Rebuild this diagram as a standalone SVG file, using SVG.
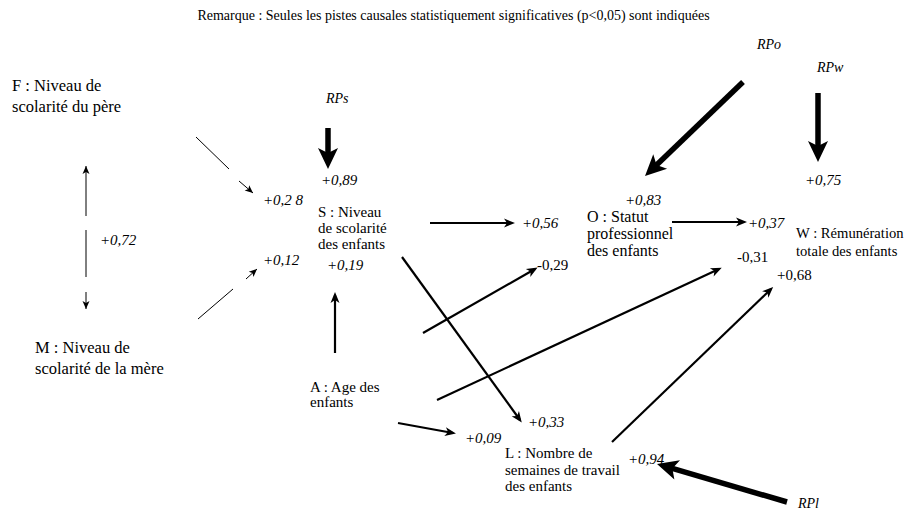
<svg xmlns="http://www.w3.org/2000/svg" width="907" height="512" viewBox="0 0 907 512">
  <style>
    text { font-family: "Liberation Serif", "Times New Roman", serif; fill: #000; }
    .node { font-size: 15px; }
    .big { font-size: 16.5px; }
    .mid16 { font-size: 16px; }
    .coef { font-size: 15px; font-style: italic; }
    .coefu { font-size: 15px; }
    .res { font-size: 14px; font-style: italic; }
    .note { font-size: 14px; }
    .thin { stroke: #000; stroke-width: 1; fill: none; }
    .mid { stroke: #000; stroke-width: 2.2; fill: none; marker-end: url(#ahMid); }
    .thick { stroke: #000; stroke-width: 5.5; fill: none; marker-end: url(#ahThick); }
    .thinArrow { stroke: #000; stroke-width: 1; fill: none; marker-end: url(#ahThin); }
  </style>
  <defs>
    <marker id="ahThin" markerUnits="userSpaceOnUse" orient="auto" refX="0" refY="0" markerWidth="10" markerHeight="10" style="overflow:visible">
      <path d="M0,0 L-8,-3.5 L-6,0 L-8,3.5 Z" fill="#000"/>
    </marker>
    <marker id="ahMid" markerUnits="userSpaceOnUse" orient="auto" refX="-3" refY="0" markerWidth="14" markerHeight="12" style="overflow:visible">
      <path d="M0,0 L-11,-4.5 L-8,0 L-11,4.5 Z" fill="#000"/>
    </marker>
    <marker id="ahThick" markerUnits="userSpaceOnUse" orient="auto" refX="-8" refY="0" markerWidth="24" markerHeight="22" style="overflow:visible">
      <path d="M0,0 L-21,-10 L-16,0 L-21,10 Z" fill="#000"/>
    </marker>
  </defs>

  <text class="note" x="453.5" y="20" text-anchor="middle">Remarque : Seules les pistes causales statistiquement significatives (p&lt;0,05) sont indiquées</text>

  <!-- variables -->
  <g id="F">
    <text class="node big" x="12" y="91">F : Niveau de</text>
    <text class="node big" x="12" y="112">scolarité du père</text>
  </g>
  <g id="M">
    <text class="node big" x="35" y="353">M : Niveau de</text>
    <text class="node big" x="35" y="374">scolarité de la mère</text>
  </g>
  <g id="S">
    <text class="node" x="318" y="217">S : Niveau</text>
    <text class="node" x="318" y="233">de scolarité</text>
    <text class="node" x="318" y="249">des enfants</text>
  </g>
  <g id="A">
    <text class="node" x="310" y="392">A : Age des</text>
    <text class="node" x="310" y="407">enfants</text>
  </g>
  <g id="O">
    <text class="node mid16" x="587" y="222">O : Statut</text>
    <text class="node mid16" x="587" y="239">professionnel</text>
    <text class="node mid16" x="587" y="256">des enfants</text>
  </g>
  <g id="L">
    <text class="node" x="505" y="458">L : Nombre de</text>
    <text class="node" x="505" y="475">semaines de travail</text>
    <text class="node" x="505" y="491">des enfants</text>
  </g>
  <g id="W">
    <text class="node" x="796" y="238" style="font-size:14.6px">W : Rémunération</text>
    <text class="node" x="796" y="256" style="font-size:14.6px">totale des enfants</text>
  </g>

  <!-- residual terms -->
  <g id="RPs"><text class="res" x="326" y="103">RPs</text></g>
  <g id="RPo"><text class="res" x="757" y="49">RPo</text></g>
  <g id="RPw"><text class="res" x="817" y="72">RPw</text></g>
  <g id="RPl"><text class="res" x="798" y="508">RPl</text></g>

  <!-- paths and coefficients -->
  <g id="connectors">
    <!-- F <-> M correlation -->
    <line class="thinArrow" x1="86" y1="216" x2="86" y2="166"/>
    <line class="thin" x1="86" y1="230" x2="86" y2="277"/>
    <line class="thinArrow" x1="86" y1="292" x2="86" y2="309"/>
    <text class="coef" x="100" y="245">+0,72</text>

    <!-- F -> S -->
    <line class="thin" x1="196" y1="137" x2="229" y2="169"/>
    <line class="thinArrow" x1="239" y1="181" x2="253" y2="193"/>
    <text class="coef" x="263" y="205">+0,2 8</text>

    <!-- M -> S -->
    <line class="thin" x1="198" y1="319" x2="233" y2="289"/>
    <line class="thinArrow" x1="246" y1="279" x2="257" y2="269"/>
    <text class="coef" x="263" y="265">+0,12</text>

    <!-- RPs -> S -->
    <line class="thick" x1="328" y1="128" x2="328" y2="161"/>
    <text class="coef" x="321" y="185">+0,89</text>

    <!-- A -> S -->
    <line class="mid" x1="335" y1="353" x2="335" y2="295"/>
    <text class="coef" x="327" y="270">+0,19</text>

    <!-- S -> O -->
    <line class="mid" x1="430" y1="223" x2="512" y2="223"/>
    <text class="coef" x="522" y="228">+0,56</text>

    <!-- A -> O -->
    <line class="mid" x1="423" y1="333" x2="535" y2="269"/>
    <text class="coefu" x="537" y="270">-0,29</text>

    <!-- RPo -> O -->
    <line class="thick" x1="743" y1="82" x2="650.8" y2="170.5"/>
    <text class="coef" x="625" y="205">+0,83</text>

    <!-- O -> W -->
    <line class="mid" x1="672" y1="222" x2="744" y2="222"/>
    <text class="coef" x="748" y="228">+0,37</text>

    <!-- RPw -> W -->
    <line class="thick" x1="818" y1="93" x2="818" y2="154"/>
    <text class="coef" x="805" y="185">+0,75</text>

    <!-- A -> W -->
    <line class="mid" x1="437" y1="400" x2="719" y2="269"/>
    <text class="coefu" x="737" y="262">-0,31</text>

    <!-- L -> W -->
    <line class="mid" x1="612" y1="442" x2="771" y2="289"/>
    <text class="coefu" x="777" y="280">+0,68</text>

    <!-- S -> L -->
    <line class="mid" x1="402" y1="257" x2="520" y2="420"/>
    <text class="coef" x="528" y="427">+0,33</text>

    <!-- A -> L -->
    <line class="mid" x1="398" y1="423" x2="453" y2="433"/>
    <text class="coef" x="465" y="443">+0,09</text>

    <!-- RPl -> L -->
    <line class="thick" x1="787" y1="502" x2="664.7" y2="466.2"/>
    <text class="coef" x="628" y="464">+0,94</text>
  </g>
</svg>
